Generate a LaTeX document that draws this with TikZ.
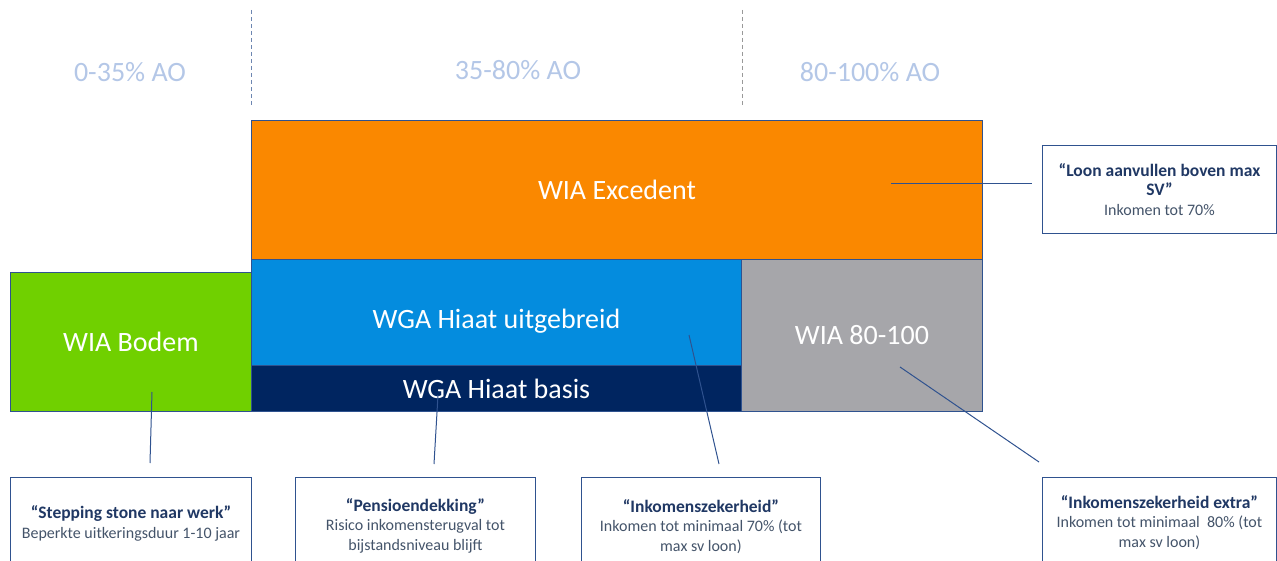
\documentclass[tikz,border=0pt]{standalone}
\usepackage{fontspec}
\setmainfont{Carlito}
\usepackage{tikz}

\definecolor{wiaorange}{RGB}{250,136,0}
\definecolor{wgablue}{RGB}{4,140,222}
\definecolor{wganavy}{RGB}{0,37,96}
\definecolor{wiagray}{RGB}{166,166,170}
\definecolor{wiagreen}{RGB}{112,208,0}
\definecolor{edgeblue}{RGB}{47,82,143}
\definecolor{titletext}{RGB}{32,56,100}
\definecolor{notetext}{RGB}{68,84,106}
\definecolor{bandtext}{RGB}{180,199,231}

\newcommand{\notehead}[1]{{\fontsize{17.5}{19.5}\selectfont\bfseries\color{titletext}#1}}

\begin{document}
\begin{tikzpicture}[x=1pt,y=-1pt,
  block/.style={draw=edgeblue, line width=0.9pt, inner sep=0pt, anchor=north west,
    text=white, font=\fontsize{28}{32}\selectfont},
  note/.style={draw=edgeblue, line width=0.9pt, fill=white, inner sep=0pt, anchor=north west,
    align=center, text=notetext, font=\fontsize{16}{19.5}\selectfont},
  link/.style={edgeblue, line width=1pt},
  band/.style={text=bandtext, font=\fontsize{28}{32}\selectfont}]

  \useasboundingbox (0,0) rectangle (1277,561);

  % Draw the AO bands on top
  \draw[edgeblue!70, line width=0.6pt, dash pattern=on 4pt off 3pt] (251,10) -- (251,107);
  \draw[gray!80, line width=0.6pt, dash pattern=on 4pt off 3pt] (742,10) -- (742,107);

  \node[band] (lowband) at (130,72) {0-35\% AO};
  \node[band] (midband) at (518,70) {35-80\% AO};
  \node[band] (highband) at (870,72) {80-100\% AO};

  % Draw the blocks
  \node[block, fill=wiaorange, minimum width=731pt, minimum height=139pt] (excedent) at (251,120) {WIA Excedent};
  \node[block, fill=wgablue, minimum width=490pt, minimum height=106pt] (uitgebreid) at (251,259) {\rule{0pt}{36pt}WGA Hiaat uitgebreid};
  \node[block, fill=wganavy, minimum width=490pt, minimum height=46pt] (basis) at (251,365) {WGA Hiaat basis};
  \node[block, fill=wiagray, minimum width=241pt, minimum height=152pt] (wia80) at (741,259) {WIA 80-100};
  \node[block, fill=wiagreen, minimum width=241pt, minimum height=139pt] (bodem) at (10,272) {WIA Bodem};

  % Draw the links to the notes
  \coordinate (excedent-in) at (891,184);
  \coordinate (excedent-out) at (1032,184);
  \coordinate (bodem-in) at (152,392);
  \coordinate (bodem-out) at (150,463);
  \coordinate (basis-in) at (438,395);
  \coordinate (basis-out) at (434,464);
  \coordinate (uitgebreid-in) at (689,335);
  \coordinate (uitgebreid-out) at (719,464);
  \coordinate (wia80-in) at (900,367);
  \coordinate (wia80-out) at (1039,462);

  \draw[link] (excedent-in) -- (excedent-out);
  \draw[link] (bodem-in) -- (bodem-out);
  \draw[link] (basis-in) -- (basis-out);
  \draw[link] (uitgebreid-in) -- (uitgebreid-out);
  \draw[link] (wia80-in) -- (wia80-out);

  % Draw the notes
  \node[note, minimum width=234pt, minimum height=88pt] (loonnote) at (1042,145)
    {\notehead{“Loon aanvullen boven max}\\\notehead{SV”}\\Inkomen tot 70\%};

  \node[note, minimum width=241pt, minimum height=92pt] (stepnote) at (10,477)
    {\notehead{“Stepping stone naar werk”}\\Beperkte uitkeringsduur 1-10 jaar};

  \node[note, minimum width=240pt, minimum height=96pt] (pensioennote) at (295,477)
    {\notehead{“Pensioendekking”}\\Risico inkomensterugval tot\\bijstandsniveau blijft};

  \node[note, minimum width=239pt, minimum height=98pt] (zekernote) at (581,477)
    {\notehead{“Inkomenszekerheid”}\\Inkomen tot minimaal 70\% (tot\\max sv loon)};

  \node[note, minimum width=234pt, minimum height=90pt] (extranote) at (1042,477)
    {\notehead{“Inkomenszekerheid extra”}\\Inkomen tot minimaal~ 80\% (tot\\max sv loon)};

\end{tikzpicture}
\end{document}
